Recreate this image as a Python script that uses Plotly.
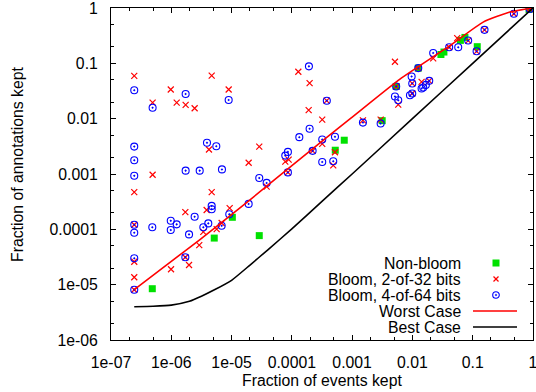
import plotly.graph_objects as go

# ---------------- data ----------------
nonbloom_x = [4.84e-7, 5.16e-6, 1.03e-5, 2.88e-5, 7.4e-4, 5.25e-4, 3.15e-3, 5.38e-3,
              1.25e-2, 2.97e-2, 3.33e-2, 6.25e-2, 7.43e-2, 0.119, 0.86]
nonbloom_y = [8.45e-6, 6.95e-5, 1.65e-4, 7.7e-5, 4.08e-3, 2.69e-3, 9.2e-3, 3.82e-2,
              8.2e-2, 0.1445, 0.160, 0.26, 0.294, 0.20, 0.94]

bloom2_x = [2.43e-7, 2.43e-7, 2.43e-7, 2.43e-7, 2.43e-7, 2.43e-7,
            4.9e-7, 9.8e-7, 1.23e-6, 1.73e-6, 2.44e-6, 4.68e-6, 8.95e-6, 4.22e-6,
            4.9e-7, 2.88e-5, 1.92e-5, 7.78e-5, 8.85e-5, 1.28e-4, 4.68e-6, 1.71e-6,
            3.86e-6, 9.3e-6, 3.82e-5, 3.4e-6, 5.66e-6, 6.85e-6, 2.91e-6, 9.9e-7,
            1.97e-6, 1.71e-6, 8.6e-5, 1.97e-4, 1.9e-4, 3.19e-4, 3.78e-4, 3.19e-4,
            2.21e-4, 5.19e-4, 4.86e-4, 1.51e-3, 2.97e-3, 5.13e-3, 5.38e-3, 5.82e-3,
            1.25e-2, 9.93e-3, 1.42e-2, 1.9e-2, 9.93e-3, 5.53e-2, 8.41e-2, 2.21e-2,
            4.07e-2, 0.116, 0.157, 0.482, 0.88]
bloom2_y = [5.95e-2, 4.7e-4, 1.21e-4, 2.6e-5, 1.36e-5, 8.1e-6,
            1.95e-2, 3.37e-2, 1.95e-2, 1.77e-2, 1.54e-2, 6.0e-2, 3.37e-2, 2.77e-3,
            9.7e-4, 3.13e-3, 1.6e-3, 1.67e-3, 1.82e-3, 7.04e-2, 4.71e-4, 2.04e-4,
            2.24e-4, 2.41e-4, 5.9e-4, 9.0e-5, 1.01e-4, 1.3e-4, 5.19e-5, 1.9e-5,
            2.27e-5, 3.13e-5, 1.07e-3, 4.38e-2, 1.43e-2, 9.6e-3, 2.12e-2, 3.51e-3,
            2.62e-3, 2.47e-3, 1.43e-3, 9.3e-3, 9.6e-3, 0.107, 3.82e-2, 1.8e-2,
            8.2e-2, 4.33e-2, 4.63e-2, 4.83e-2, 2.85e-2, 0.285, 0.258, 0.123,
            0.195, 0.165, 0.403, 0.787, 0.96]

bloom4_x = [2.43e-7, 2.43e-7, 2.43e-7, 2.43e-7, 2.43e-7, 2.43e-7, 2.43e-7, 2.43e-7,
            4.9e-7, 1.73e-6, 8.95e-6, 3.91e-6, 5.58e-6, 1.73e-6, 2.96e-6, 6.93e-6,
            2.88e-5, 7.78e-5, 8.6e-5, 8.6e-5, 1.33e-4, 3.82e-5, 1.92e-5, 4.68e-6,
            4.68e-6, 9.16e-6, 4.11e-6, 3.4e-6, 6.85e-6, 2.44e-6, 9.8e-7, 1.23e-6,
            9.8e-7, 4.84e-7, 1.97e-6, 1.71e-6, 1.92e-4, 3.8e-4, 1.97e-4, 3.19e-4,
            5.19e-4, 2.21e-4, 1.51e-3, 2.97e-3, 5.13e-3, 5.82e-3, 5.38e-3, 1.25e-2,
            9.7e-3, 9.93e-3, 1.9e-2, 1.67e-2, 1.51e-2, 1.42e-2, 9.93e-3, 9.1e-3,
            3.19e-4, 4.86e-4, 8.41e-2, 2.21e-2, 4.07e-2, 5.75e-2, 0.116, 0.157,
            0.482, 0.88]
bloom4_y = [3.27e-2, 3.13e-3, 1.77e-3, 9.3e-4, 1.21e-4, 8.7e-5, 3.0e-5, 8.1e-6,
            1.58e-2, 2.8e-2, 2.18e-2, 3.66e-3, 3.18e-3, 1.15e-3, 1.15e-3, 1.21e-3,
            8.45e-4, 2.15e-3, 2.51e-3, 1.07e-3, 4.63e-3, 6.9e-4, 2.88e-4, 2.65e-4,
            2.31e-4, 1.87e-4, 1.28e-4, 1.09e-4, 1.16e-4, 1.69e-4, 1.43e-4, 1.23e-4,
            9.7e-5, 1.09e-4, 8.1e-5, 3.13e-5, 8.82e-2, 2.11e-2, 6.58e-3, 4.2e-3,
            4.7e-3, 2.62e-3, 8.5e-3, 8.2e-3, 2.51e-2, 2.15e-2, 3.82e-2, 8.2e-2,
            5.8e-2, 4.33e-2, 4.83e-2, 4.08e-2, 3.66e-2, 3.5e-2, 2.85e-2, 2.65e-2,
            1.65e-3, 1.7e-3, 0.258, 0.154, 0.195, 0.195, 0.165, 0.403,
            0.787, 0.96]

worst_x = [2.43e-7, 8.4e-7, 2.99e-6, 2.02e-5, 1.36e-4, 9.2e-4, 6.21e-3, 4.19e-2, 0.149, 0.414, 1.0]
worst_y = [8.1e-6, 2.29e-5, 6.53e-5, 3.41e-4, 1.86e-3, 9.9e-3, 5.19e-2, 0.209, 0.556, 0.845, 1.0]

best_x = [2.43e-7, 5.0e-7, 1.0e-6, 2.0e-6, 3.16e-6, 5.0e-6, 1.0e-5, 2.0e-5, 4.0e-5,
          1.0e-4, 3.16e-4, 1.0e-3, 1.0e-2, 0.1, 1.0]
best_y = [3.98e-6, 4.07e-6, 4.27e-6, 5.0e-6, 6.17e-6, 7.9e-6, 1.2e-5, 2.24e-5, 4.27e-5,
          1.02e-4, 3.2e-4, 1.0e-3, 1.0e-2, 0.1, 1.0]

x_tickvals = [1e-7, 1e-6, 1e-5, 1e-4, 1e-3, 1e-2, 1e-1, 1]
x_ticktext = ["1e-07", "1e-06", "1e-05", "0.0001", "0.001", "0.01", "0.1", "1"]
y_tickvals = [1e-6, 1e-5, 1e-4, 1e-3, 1e-2, 1e-1, 1]
y_ticktext = ["1e-06", "1e-05", "0.0001", "0.001", "0.01", "0.1", "1"]

legend_names = ["Non-bloom", "Bloom, 2-of-32 bits", "Bloom, 4-of-64 bits", "Worst Case", "Best Case"]

# ---------------- styling ----------------
GREEN = "#00e100"
RED = "#ff0000"
BLUE = "#0000ff"
FONT = "Liberation Sans, Arial, Helvetica, sans-serif"
FS = 15.8

W, H = 536, 392
ML, MR, MT, MB = 111, 3, 8, 52
PW, PH = W - ML - MR, H - MT - MB


def px(xp):
    return (xp - ML) / PW


def py(yp):
    return (H - MB - yp) / PH


fig = go.Figure()
fig.add_trace(go.Scatter(x=nonbloom_x, y=nonbloom_y, mode="markers", name=legend_names[0],
                         marker=dict(symbol="square", size=7, color=GREEN, line=dict(width=0))))
fig.add_trace(go.Scatter(x=bloom2_x, y=bloom2_y, mode="markers", name=legend_names[1],
                         marker=dict(symbol="x-thin-open", size=6, color=RED, line=dict(width=1.2, color=RED))))
fig.add_trace(go.Scatter(x=bloom4_x, y=bloom4_y, mode="markers", name=legend_names[2],
                         marker=dict(symbol="circle-open-dot", size=7, color=BLUE, line=dict(width=1.1, color=BLUE))))
fig.add_trace(go.Scatter(x=worst_x, y=worst_y, mode="lines", name=legend_names[3],
                         line=dict(color=RED, width=1.6, shape="spline", smoothing=0.5)))
fig.add_trace(go.Scatter(x=best_x, y=best_y, mode="lines", name=legend_names[4],
                         line=dict(color="black", width=1.6, shape="spline", smoothing=0.5)))

minor_x = []
minor_y = []
for e in range(-7, 0):
    minor_x += [2 * 10 ** e, 5 * 10 ** e]
for e in range(-6, 0):
    minor_y += [2 * 10 ** e, 5 * 10 ** e]

axis_common = dict(type="log", showgrid=False, zeroline=False, showline=True, linecolor="black",
                   linewidth=1, mirror="ticks", ticks="inside", ticklen=5, tickwidth=1,
                   automargin=False, ticklabeloverflow="allow",
                   tickcolor="black", tickfont=dict(family=FONT, size=FS, color="black"))
fig.update_xaxes(range=[-7, 0.0001], tickmode="array", tickvals=x_tickvals, ticktext=x_ticktext,
                 ticklabelstandoff=8,
                 minor=dict(tickmode="array", tickvals=minor_x, ticks="inside", ticklen=3,
                            tickcolor="black", showgrid=False),
                 **axis_common)
fig.update_yaxes(range=[-6, 0.0001], tickmode="array", tickvals=y_tickvals, ticktext=y_ticktext,
                 ticklabelstandoff=9,
                 minor=dict(tickmode="array", tickvals=minor_y, ticks="inside", ticklen=3,
                            tickcolor="black", showgrid=False),
                 **axis_common)

# ---------------- gnuplot-style key (text right, sample left) ----------------
shapes = []
annotations = []
text_right = 463
key_cx = 496
line_x0, line_x1 = 473, 517
rows = [263, 279, 295, 311, 327]
for name, ry in zip(legend_names, rows):
    annotations.append(dict(xref="paper", yref="paper", x=px(text_right), y=py(ry), text=name,
                            showarrow=False, xanchor="right", yanchor="middle",
                            font=dict(family=FONT, size=FS, color="black")))
# Non-bloom square
shapes.append(dict(type="rect", xref="paper", yref="paper", x0=px(key_cx - 3.5), x1=px(key_cx + 3.5),
                   y0=py(rows[0] + 3.5), y1=py(rows[0] - 3.5), fillcolor=GREEN, line=dict(width=0)))
# cross
for (a, b, c, d) in [(-2.5, -2.5, 2.5, 2.5), (-2.5, 2.5, 2.5, -2.5)]:
    shapes.append(dict(type="line", xref="paper", yref="paper", x0=px(key_cx + a), y0=py(rows[1] + b),
                       x1=px(key_cx + c), y1=py(rows[1] + d), line=dict(color=RED, width=1.2)))
# circle with dot
shapes.append(dict(type="circle", xref="paper", yref="paper", x0=px(key_cx - 3.3), x1=px(key_cx + 3.3),
                   y0=py(rows[2] + 3.3), y1=py(rows[2] - 3.3), line=dict(color=BLUE, width=1.1)))
shapes.append(dict(type="circle", xref="paper", yref="paper", x0=px(key_cx - 0.8), x1=px(key_cx + 0.8),
                   y0=py(rows[2] + 0.8), y1=py(rows[2] - 0.8), fillcolor=BLUE, line=dict(color=BLUE, width=0.5)))
# lines
shapes.append(dict(type="line", xref="paper", yref="paper", x0=px(line_x0), x1=px(line_x1),
                   y0=py(rows[3]), y1=py(rows[3]), line=dict(color=RED, width=1.6)))
shapes.append(dict(type="line", xref="paper", yref="paper", x0=px(line_x0), x1=px(line_x1),
                   y0=py(rows[4]), y1=py(rows[4]), line=dict(color="black", width=1.6)))

# axis titles
annotations.append(dict(xref="paper", yref="paper", x=px(322), y=py(380), text="Fraction of events kept",
                        showarrow=False, xanchor="center", yanchor="middle",
                        font=dict(family=FONT, size=FS, color="black")))
annotations.append(dict(xref="paper", yref="paper", x=px(17), y=py(164), text="Fraction of annotations kept",
                        showarrow=False, xanchor="center", yanchor="middle", textangle=-90,
                        font=dict(family=FONT, size=FS, color="black")))

fig.update_layout(width=W, height=H, margin=dict(l=ML, r=MR, t=MT, b=MB, pad=0, autoexpand=False),
                  paper_bgcolor="white", plot_bgcolor="white", showlegend=False,
                  shapes=shapes, annotations=annotations,
                  font=dict(family=FONT, size=FS, color="black"))

fig.write_html("out.html", config={"displayModeBar": False},
               post_script="document.body.style.margin='0px';document.body.style.overflow='hidden';")
